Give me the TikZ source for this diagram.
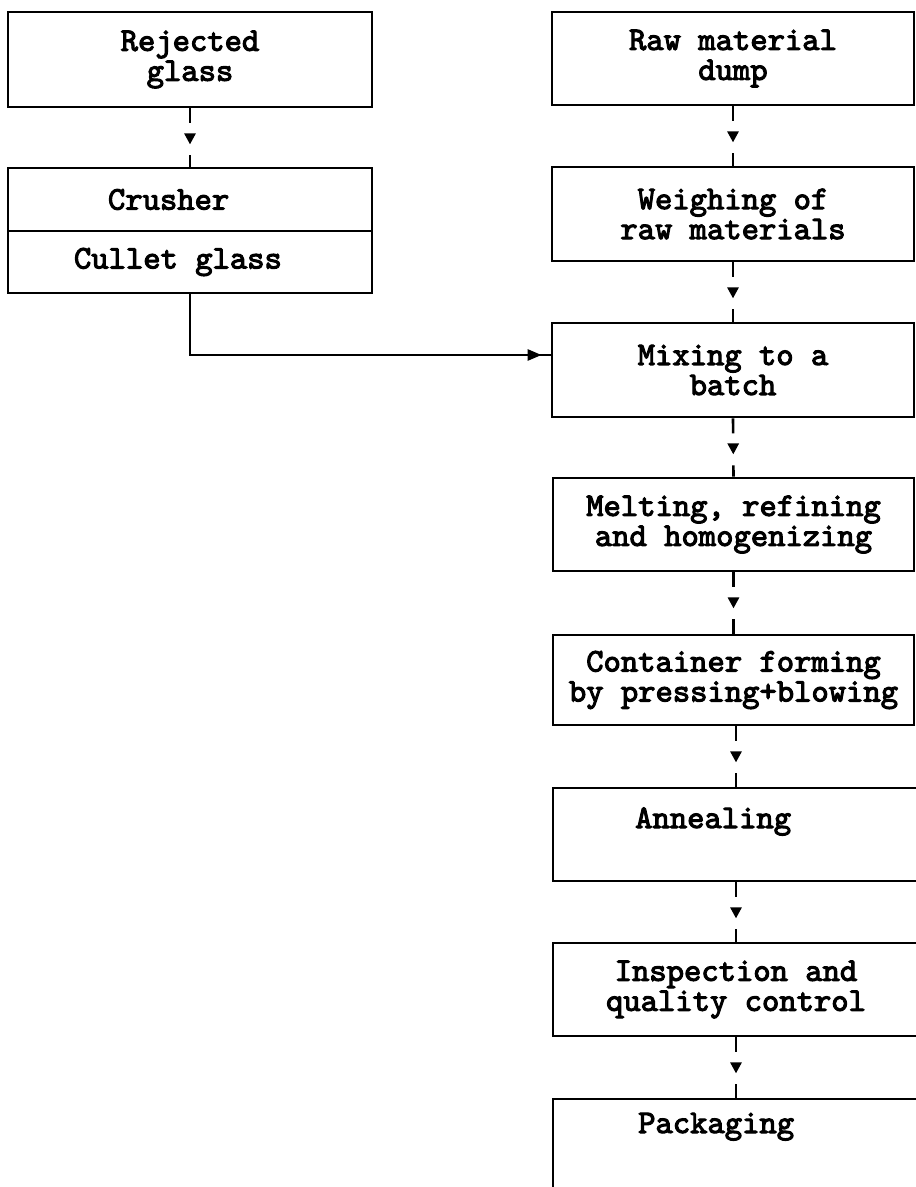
\documentclass[tikz,border=0pt]{standalone}
\usepackage{fontspec}
\usetikzlibrary{arrows.meta,decorations.markings,calc}

% heavy typewriter face for all box texts
\newfontfamily\boxfont{lmmono10-regular.otf}[FakeBold=3.2]

\tikzset{
  every node/.style={font=\boxfont\fontsize{33}{30}\selectfont},
  stepbox/.style={draw, line width=2.8pt, inner sep=0pt, align=center},
  % left-set text keeps the full monospaced word space
  leftset/.style={align=left, execute at begin node={\spaceskip=0pt\xspaceskip=0pt}},
  caption/.style={inner sep=0pt, anchor=base west},
  % short stub, gap, small triangle, gap, short stub
  flowlink/.style={line width=2.6pt, dash pattern=on 15pt off 32pt on 80pt,
    postaction={decorate, decoration={markings,
      mark=at position 36pt with {\arrow{Triangle[length=11pt,width=11pt]}}}}},
  % solid feed line with the tip close to its end
  feedlink/.style={line width=2.6pt,
    postaction={decorate, decoration={markings,
      mark=at position -9pt with {\arrow{Triangle[length=14pt,width=11pt]}}}}}
}

\begin{document}
\begin{tikzpicture}[x=1pt, y=-1pt]
\useasboundingbox (0,0) rectangle (916,1187);
\clip (0,0) rectangle (916,1187);

% cullet branch
\node[stepbox, minimum width=364pt, minimum height=95pt] (rej) at (190,59.5) {Rejected\\glass};
\node[stepbox, leftset, inner xsep=100pt, text width=164pt, minimum height=63pt] (crush) at (190,199.5) {Crusher};
\node[stepbox, leftset, inner xsep=66pt, text width=232pt, minimum height=62pt] (cullet) at (190,262) {Cullet glass};

% main process line
\node[stepbox, minimum width=362pt, minimum height=93pt] (dump) at (733,58.5) {Raw material\\dump};
\node[stepbox, minimum width=362pt, minimum height=94pt] (weigh) at (733,214) {Weighing of\\raw materials};
\node[stepbox, minimum width=362pt, minimum height=94pt] (mix) at (733,370) {Mixing to a\\batch};
\node[stepbox, minimum width=361pt, minimum height=93pt] (melt) at (733.5,524.5) {Melting, refining\\and homogenizing};
\node[stepbox, minimum width=361pt, minimum height=90pt] (cont) at (733.5,680) {Container forming\\by pressing+blowing};
\node[stepbox, minimum width=366pt, minimum height=93pt] (anneal) at (736,834.5) {};
\node[caption] (annealT) at (635,828) {Annealing};
\node[stepbox, minimum width=366pt, minimum height=93pt] (inspect) at (736,989.5) {Inspection and\\quality control};
\node[stepbox, minimum width=366pt, minimum height=100pt] (pack) at (736,1149) {};
\node[caption] (packT) at (638,1133) {Packaging};

% connectors
\draw[flowlink] (rej.south) -- (crush.north);
\draw[flowlink] (dump.south) -- (weigh.north);
\draw[flowlink] (weigh.south) -- (mix.north);
\draw[flowlink] (mix.south) -- (melt.north);
\draw[flowlink] (melt.south) -- (cont.north);
\draw[flowlink] (anneal.north |- cont.south) -- (anneal.north);
\draw[flowlink] (anneal.south) -- (inspect.north);
\draw[flowlink] (inspect.south) -- (pack.north);

\coordinate (feedin) at ($(mix.west)+(0,-15)$);
\draw[feedlink] (cullet.south) |- (feedin);
\end{tikzpicture}
\end{document}
